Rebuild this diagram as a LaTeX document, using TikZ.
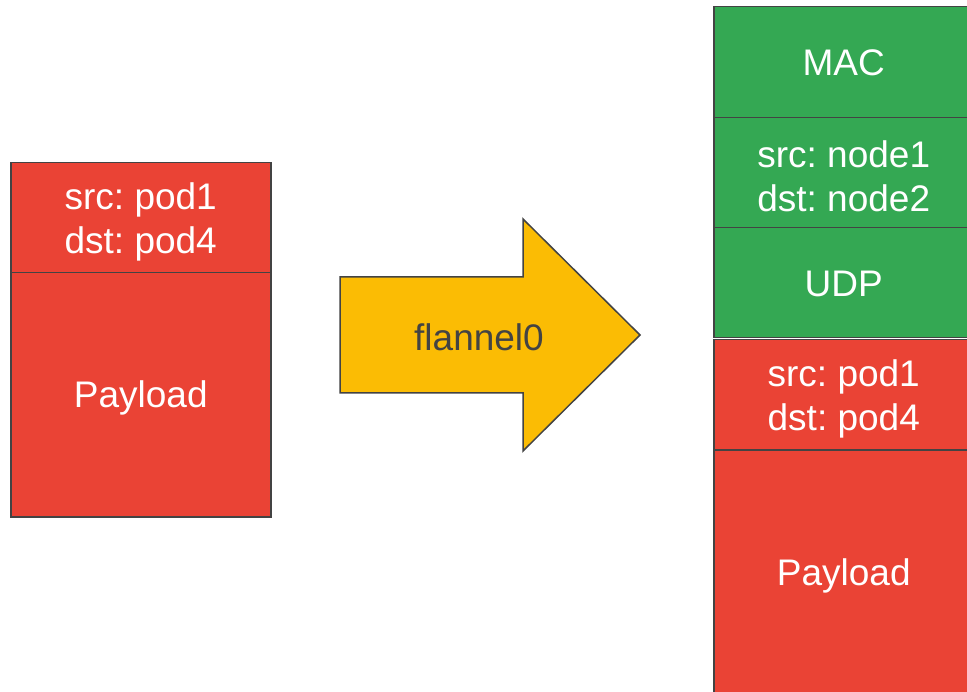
\documentclass[tikz,border=0pt]{standalone}
\usepackage{fontspec}
\setmainfont{Liberation Sans}
\frenchspacing
\definecolor{cellred}{HTML}{EA4335}
\definecolor{cellgreen}{HTML}{34A853}
\definecolor{pipeyellow}{HTML}{FBBC04}
\definecolor{edgegray}{HTML}{434343}
\tikzset{
  cell/.style={draw=edgegray, line width=1.5pt, anchor=north west,
    minimum width=260pt, inner sep=0pt},
  hdr/.style={cell, minimum height=110pt},
  body/.style={cell, minimum height=244pt},
  celltext/.style={text=white, align=center, inner sep=0pt,
    font=\fontsize{37}{44}\selectfont},
  pipe/.style={draw=edgegray, line width=1.5pt, fill=pipeyellow, line join=miter},
}
% label centred in a cell, lowered by #3 pt
\newcommand{\celllabel}[4]{\node[celltext] (#1) at ([yshift=-#3pt]#2.center) {#4};}
\begin{document}
\begin{tikzpicture}[x=1pt,y=-1pt]
  \clip (0,0) rectangle (967,692);
  \fill[white] (0,0) rectangle (967,692);

  % original packet
  \node[hdr, fill=cellred] (inhdr) at (10,162) {};
  \node[body, fill=cellred] (inpay) at (10,272) {};
  \celllabel{inhdrtext}{inhdr}{4}{src: pod1\\dst: pod4}
  \celllabel{inpaytext}{inpay}{3}{Payload}

  % flannel0 interface
  \draw[pipe] (340,277) -- (523,277) -- (523,219) -- (640,335)
    -- (523,451) -- (523,393) -- (340,393) -- cycle;
  \node[text=edgegray, font=\fontsize{37}{44}\selectfont] (flannel) at (479,337) {flannel0};

  % encapsulated packet
  \node[hdr, fill=cellgreen, minimum height=111pt] (mac) at (713,6) {};
  \node[hdr, fill=cellgreen] (outer) at (713,117) {};
  \node[hdr, fill=cellgreen] (udp) at (713,227) {};
  \node[hdr, fill=cellred] (outhdr) at (713,339) {};
  \node[body, fill=cellred] (outpay) at (713,450) {};
  \celllabel{mactext}{mac}{0.5}{MAC}
  \celllabel{outertext}{outer}{4}{src: node1\\dst: node2}
  \celllabel{udptext}{udp}{1.5}{UDP}
  \celllabel{outhdrtext}{outhdr}{4}{src: pod1\\dst: pod4}
  \celllabel{outpaytext}{outpay}{3}{Payload}
\end{tikzpicture}
\end{document}
